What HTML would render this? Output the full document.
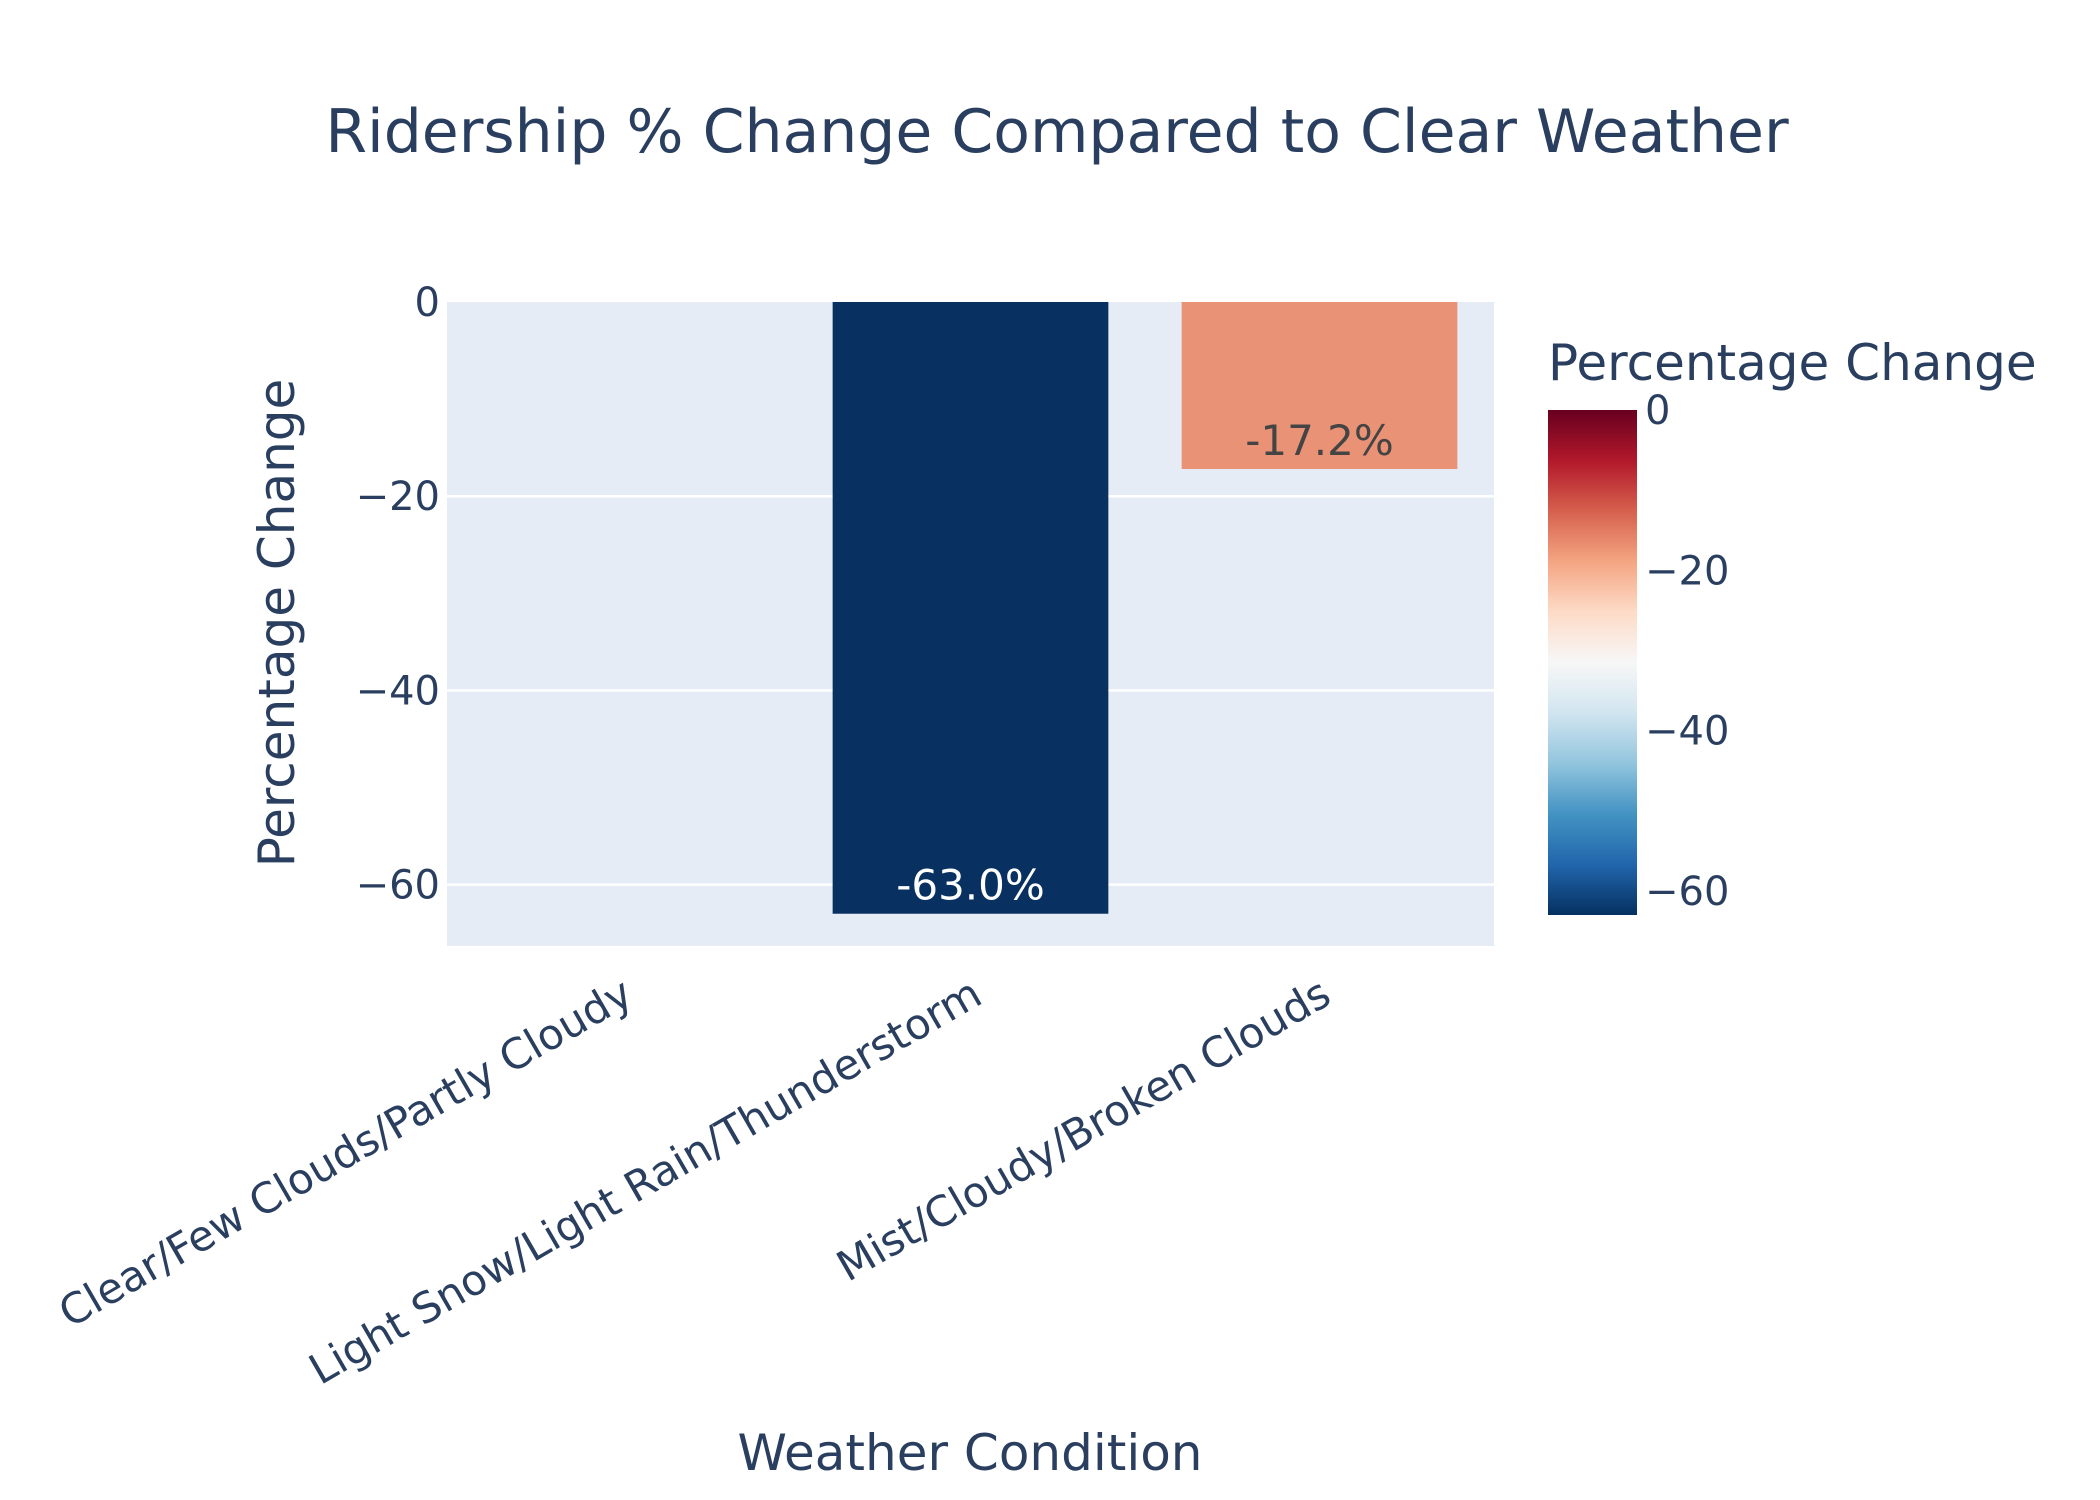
<!DOCTYPE html>
<html><head><meta charset="utf-8"><style>
html,body{margin:0;padding:0;background:#fff;}
svg{display:block;font-family:"DejaVu Sans","Liberation Sans",sans-serif;}
</style></head><body>
<svg id="chart" width="2100" height="1500" viewBox="0 0 2100 1500">
<defs>
<linearGradient id="cbgrad" x1="0" y1="1" x2="0" y2="0">
<stop offset="0" stop-color="rgb(5,48,97)"/><stop offset="0.1" stop-color="rgb(33,102,172)"/>
<stop offset="0.2" stop-color="rgb(67,147,195)"/><stop offset="0.3" stop-color="rgb(146,197,222)"/>
<stop offset="0.4" stop-color="rgb(209,229,240)"/><stop offset="0.5" stop-color="rgb(247,247,247)"/>
<stop offset="0.6" stop-color="rgb(253,219,199)"/><stop offset="0.7" stop-color="rgb(244,165,130)"/>
<stop offset="0.8" stop-color="rgb(214,96,77)"/><stop offset="0.9" stop-color="rgb(178,24,43)"/>
<stop offset="1" stop-color="rgb(103,0,31)"/>
</linearGradient>
</defs>
<text x="1057" y="152" text-anchor="middle" font-size="60" fill="#2a3f5f">Ridership % Change Compared to Clear Weather</text>
<rect x="447" y="302" width="1047" height="644" fill="#e5ecf6"/>
<g id="grid"></g>
<g id="bars"></g>
<g id="yticks"></g>
<g id="xticks"></g>
<text transform="translate(294,623) rotate(-90)" text-anchor="middle" font-size="50" fill="#2a3f5f">Percentage Change</text>
<text x="970" y="1470" text-anchor="middle" font-size="50" fill="#2a3f5f">Weather Condition</text>
<text x="1548" y="380" font-size="50" fill="#2a3f5f">Percentage Change</text>
<rect x="1548" y="410" width="89" height="505" fill="url(#cbgrad)"/>
<g id="cbticks"></g>
</svg>
<script>
const categories = ["Clear/Few Clouds/Partly Cloudy", "Light Snow/Light Rain/Thunderstorm", "Mist/Cloudy/Broken Clouds"];
const values = [0, -63.0, -17.2];
const yTicks = [0, -20, -40, -60];
const cbTicks = [0, -20, -40, -60];
const barColors = ["rgb(240,240,248)", "rgb(8,48,96)", "rgb(234,146,118)"];
const labelColors = ["#444", "#ffffff", "#444"];

const NS = "http://www.w3.org/2000/svg";
const plotL = 447, plotR = 1494, y0px = 302, pxPerUnit = 9.71;
const band = (plotR - plotL) / categories.length;
function xScale(i){ return plotL + band * (i + 0.5); }
function yScale(v){ return y0px - v * pxPerUnit; }
const cbTop = 410, cbBot = 915, cbMin = -63, cbMax = 0;
function cbScale(v){ return cbBot - (v - cbMin) / (cbMax - cbMin) * (cbBot - cbTop); }
function mk(tag, attrs, parent){ const e = document.createElementNS(NS, tag); for (const k in attrs) e.setAttribute(k, attrs[k]); parent.appendChild(e); return e; }

const grid = document.getElementById('grid');
const yt = document.getElementById('yticks');
yTicks.forEach(function(t){
  const y = yScale(t);
  if (t !== 0) {
    const g = mk('line', {x1: plotL, x2: plotR, y1: y, y2: y, stroke: '#fff', 'stroke-width': 2.5}, grid);
    
    
  }
  const tx = mk('text', {x: 440, y: y + 14, 'text-anchor': 'end', 'font-size': 40, fill: '#2a3f5f'}, yt);
  tx.textContent = t === 0 ? '0' : '\u2212' + Math.abs(t);
  
  
});

const bars = document.getElementById('bars');
const bw = band * 0.79;
values.forEach(function(v, i){
  const x = xScale(i) - bw / 2;
  const ya = yScale(0), yb = yScale(v);
  const r = mk('rect', {x: x, y: Math.min(ya, yb), width: bw, height: Math.max(Math.abs(yb - ya), 0.5), fill: barColors[i]}, bars);
  
  
  if (v !== 0) {
    const t = mk('text', {x: xScale(i), y: yb - 14, 'text-anchor': 'middle', 'font-size': 42, fill: labelColors[i]}, bars);
    t.textContent = v.toFixed(1) + '%';
    
    
  }
});

const xt = document.getElementById('xticks');
categories.forEach(function(c, i){
  const x = xScale(i);
  const t = mk('text', {transform: 'translate(' + (x + 14) + ',1002) rotate(-30)', 'text-anchor': 'end', 'font-size': 42, fill: '#2a3f5f'}, xt);
  t.textContent = c;
  
  
});

const cb = document.getElementById('cbticks');
cbTicks.forEach(function(t){
  const y = cbScale(t);
  const tx = mk('text', {x: 1645, y: y + 14, 'font-size': 40, fill: '#2a3f5f'}, cb);
  tx.textContent = t === 0 ? '0' : '\u2212' + Math.abs(t);
  
  
});
</script>
</body></html>
